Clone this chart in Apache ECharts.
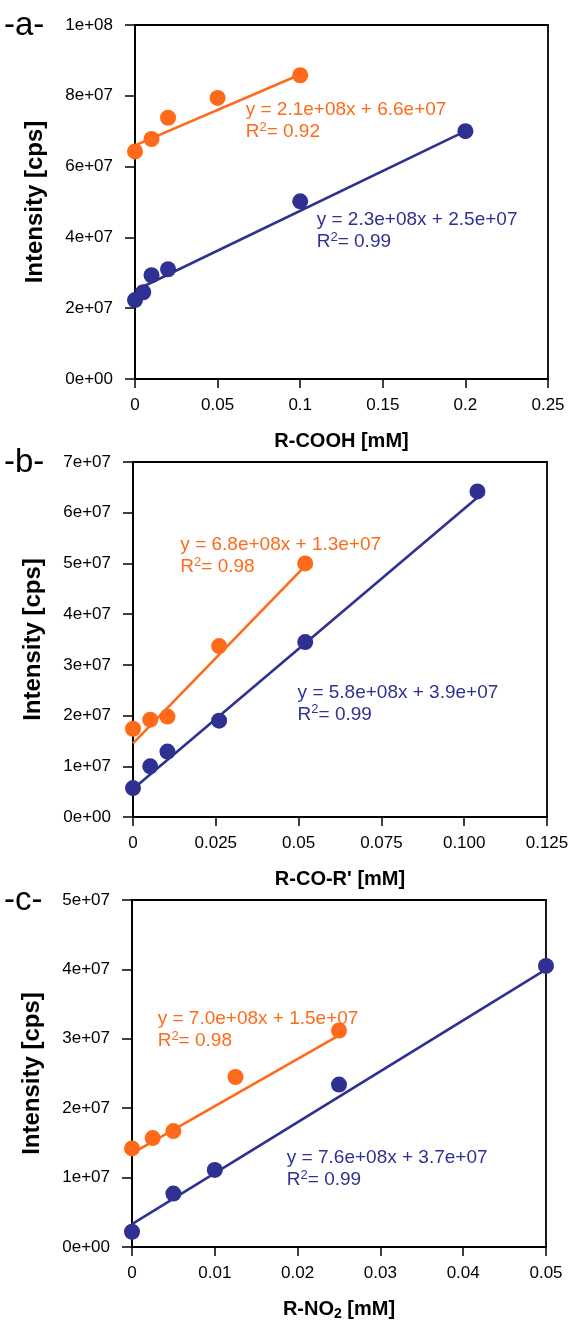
<!DOCTYPE html>
<html>
<head>
<meta charset="utf-8">
<script src="https://cdn.jsdelivr.net/npm/echarts@6/dist/echarts.min.js"></script>
<style>
html,body{margin:0;padding:0;background:#fff;}
#c{width:576px;height:1322px;}
</style>
</head>
<body>
<div id="c"></div>
<script>
// ---------- DATA ----------
// Panel a : R-COOH
const aOrangeX = [0, 0.01, 0.02, 0.05, 0.1];
const aOrangeY = [6.43e7, 6.78e7, 7.38e7, 7.94e7, 8.58e7];
const aBlueX = [0, 0.005, 0.01, 0.02, 0.1, 0.2];
const aBlueY = [2.23e7, 2.45e7, 2.93e7, 3.10e7, 5.02e7, 7.0e7];
const aOrangeFitX = [0, 0.1];
const aOrangeFitY = [6.6e7, 8.6e7];
const aBlueFitX = [0, 0.2];
const aBlueFitY = [2.5e7, 7.0e7];
const aXTicks = ['0', '0.05', '0.1', '0.15', '0.2', '0.25'];
const aYTicks = ['0e+00', '2e+07', '4e+07', '6e+07', '8e+07', '1e+08'];
const aOrangeEq = ['y = 2.1e+08x + 6.6e+07', '0.92'];
const aBlueEq = ['y = 2.3e+08x + 2.5e+07', '0.99'];
const aOrangeEqAt = [0.067, 7.29e7];
const aBlueEqAt = [0.11, 4.18e7];

// Panel b : R-CO-R'
const bOrangeX = [0, 0.0052, 0.0104, 0.026, 0.052];
const bOrangeY = [1.74e7, 1.92e7, 1.98e7, 3.37e7, 5.0e7];
const bBlueX = [0, 0.0052, 0.0104, 0.026, 0.052, 0.104];
const bBlueY = [0.57e7, 1.0e7, 1.29e7, 1.9e7, 3.45e7, 6.42e7];
const bOrangeFitX = [0, 0.052];
const bOrangeFitY = [1.45e7, 4.95e7];
const bBlueFitX = [0, 0.104];
const bBlueFitY = [0.55e7, 6.3e7];
const bXTicks = ['0', '0.025', '0.05', '0.075', '0.100', '0.125'];
const bYTicks = ['0e+00', '1e+07', '2e+07', '3e+07', '4e+07', '5e+07', '6e+07', '7e+07'];
const bOrangeEq = ['y = 6.8e+08x + 1.3e+07', '0.98'];
const bBlueEq = ['y = 5.8e+08x + 3.9e+07', '0.99'];
const bOrangeEqAt = [0.0143, 5.15e7];
const bBlueEqAt = [0.0497, 2.24e7];

// Panel c : R-NO2
const cOrangeX = [0, 0.0025, 0.005, 0.0125, 0.025];
const cOrangeY = [1.42e7, 1.57e7, 1.67e7, 2.45e7, 3.12e7];
const cBlueX = [0, 0.005, 0.01, 0.025, 0.05];
const cBlueY = [0.22e7, 0.77e7, 1.11e7, 2.34e7, 4.05e7];
const cOrangeFitX = [0, 0.025];
const cOrangeFitY = [1.35e7, 3.05e7];
const cBlueFitX = [0, 0.05];
const cBlueFitY = [0.33e7, 4.0e7];
const cXTicks = ['0', '0.01', '0.02', '0.03', '0.04', '0.05'];
const cYTicks = ['0e+00', '1e+07', '2e+07', '3e+07', '4e+07', '5e+07'];
const cOrangeEq = ['y = 7.0e+08x + 1.5e+07', '0.98'];
const cBlueEq = ['y = 7.6e+08x + 3.7e+07', '0.99'];
const cOrangeEqAt = [0.0031, 3.125e7];
const cBlueEqAt = [0.0187, 1.13e7];

// ---------- STYLE ----------
const ORANGE = '#FF6A1A';
const BLUE = '#2E3192';
const FONT = '"Liberation Sans", Arial, Helvetica, sans-serif';

const zip = (xs, ys) => xs.map((x, i) => [x, ys[i]]);

const panels = [
  {letter: '-a-', top: 25, left: 135, right: 28, height: 354,
   xMax: 0.25, xInt: 0.05, xTicks: aXTicks, yMax: 1e8, yInt: 2e7, yTicks: aYTicks,
   xName: '{n|R-COOH [mM]}',
   oX: aOrangeX, oY: aOrangeY, bX: aBlueX, bY: aBlueY,
   ofX: aOrangeFitX, ofY: aOrangeFitY, bfX: aBlueFitX, bfY: aBlueFitY,
   oEq: aOrangeEq, bEq: aBlueEq, oAt: aOrangeEqAt, bAt: aBlueEqAt},
  {letter: '-b-', top: 462, left: 133, right: 29, height: 355,
   xMax: 0.125, xInt: 0.025, xTicks: bXTicks, yMax: 7e7, yInt: 1e7, yTicks: bYTicks,
   xName: "{n|R-CO-R' [mM]}",
   oX: bOrangeX, oY: bOrangeY, bX: bBlueX, bY: bBlueY,
   ofX: bOrangeFitX, ofY: bOrangeFitY, bfX: bBlueFitX, bfY: bBlueFitY,
   oEq: bOrangeEq, bEq: bBlueEq, oAt: bOrangeEqAt, bAt: bBlueEqAt},
  {letter: '-c-', top: 900, left: 132, right: 30, height: 355,
   xMax: 0.05, xInt: 0.01, xTicks: cXTicks, yMax: 5e7, yInt: 1e7, yTicks: cYTicks,
   xName: '{n|R-NO}{s|2}{n| [mM]}',
   oX: cOrangeX, oY: cOrangeY, bX: cBlueX, bY: cBlueY,
   ofX: cOrangeFitX, ofY: cOrangeFitY, bfX: cBlueFitX, bfY: cBlueFitY,
   oEq: cOrangeEq, bEq: cBlueEq, oAt: cOrangeEqAt, bAt: cBlueEqAt}
];

const grid = [], xAxis = [], yAxis = [], series = [], graphic = [];

panels.forEach((p, i) => {
  grid.push({left: p.left, right: p.right, top: p.top, height: p.height,
    show: true, borderColor: '#000', borderWidth: 1.8, backgroundColor: 'transparent'});
  xAxis.push({type: 'value', gridIndex: i, min: 0, max: p.xMax, interval: p.xInt,
    splitLine: {show: false},
    axisLine: {show: true, onZero: false, lineStyle: {color: '#000', width: 1.8}},
    axisTick: {show: true, length: 9, lineStyle: {color: '#000', width: 1.5}},
    axisLabel: {color: '#000', fontSize: 17, fontFamily: FONT, margin: 18,
      formatter: v => p.xTicks[Math.round(v / p.xInt)]},
    name: p.xName, nameLocation: 'middle', nameGap: 50,
    nameTextStyle: {rich: {
      n: {fontSize: 20, fontWeight: 'bold', fontFamily: FONT, color: '#000', lineHeight: 24},
      s: {fontSize: 14, fontWeight: 'bold', fontFamily: FONT, color: '#000', verticalAlign: 'bottom'}
    }}
  });
  yAxis.push({type: 'value', gridIndex: i, min: 0, max: p.yMax, interval: p.yInt,
    splitLine: {show: false},
    axisLine: {show: true, onZero: false, lineStyle: {color: '#000', width: 1.8}},
    axisTick: {show: true, length: 10, lineStyle: {color: '#000', width: 1.5}},
    axisLabel: {color: '#000', fontSize: 17, fontFamily: FONT, margin: 22,
      formatter: v => p.yTicks[Math.round(v / p.yInt)]},
    name: 'Intensity [cps]', nameLocation: 'middle', nameGap: 88, nameRotate: 90,
    nameTextStyle: {fontSize: 24, fontWeight: 'bold', fontFamily: FONT, color: '#000'}
  });

  const fit = (xs, ys, color) => ({type: 'line', xAxisIndex: i, yAxisIndex: i,
    data: zip(xs, ys), showSymbol: false, symbol: 'none', silent: true, z: 2,
    lineStyle: {color: color, width: 2.6}});
  const pts = (xs, ys, color) => ({type: 'scatter', xAxisIndex: i, yAxisIndex: i,
    data: zip(xs, ys), symbol: 'circle', symbolSize: 16, z: 3,
    itemStyle: {color: color, opacity: 1}});
  const eq = (at, txt, color) => ({type: 'scatter', xAxisIndex: i, yAxisIndex: i,
    data: [at], symbolSize: 1, itemStyle: {color: 'rgba(0,0,0,0)'}, silent: true, z: 4,
    label: {show: true, position: 'inside', align: 'left', verticalAlign: 'middle', opacity: 1,
      formatter: '{t|' + txt[0] + '}\n{t|R}{sup|2}{t|= ' + txt[1] + '}',
      rich: {
        t: {fontSize: 19, fontFamily: FONT, color: color, lineHeight: 22},
        sup: {fontSize: 13, fontFamily: FONT, color: color, verticalAlign: 'top'}
      }},
    labelLayout: {hideOverlap: false}});

  series.push(fit(p.ofX, p.ofY, ORANGE));
  series.push(fit(p.bfX, p.bfY, BLUE));
  series.push(pts(p.oX, p.oY, ORANGE));
  series.push(pts(p.bX, p.bY, BLUE));
  series.push(eq(p.oAt, p.oEq, ORANGE));
  series.push(eq(p.bAt, p.bEq, BLUE));

  graphic.push({type: 'text', left: 4, top: p.top - 16,
    style: {text: p.letter, fontSize: 33, fontFamily: FONT, fill: '#000'}});
});

const chart = echarts.init(document.getElementById('c'), null, {renderer: 'canvas'});
chart.setOption({animation: false, backgroundColor: '#fff', grid, xAxis, yAxis, series, graphic});
</script>
</body>
</html>
